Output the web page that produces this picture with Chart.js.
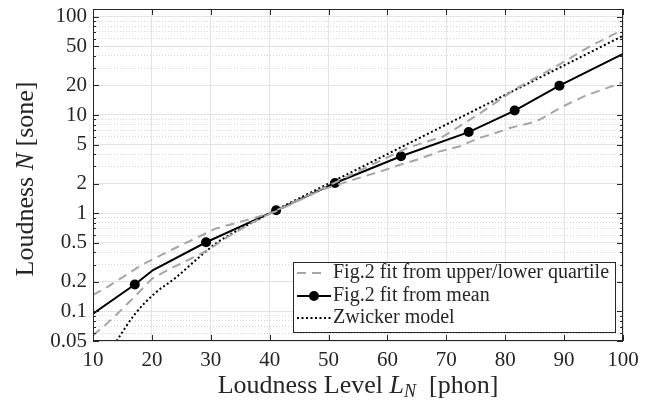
<!DOCTYPE html>
<html lang="en">
<head>
<meta charset="UTF-8">
<title>Loudness vs loudness level</title>
<script src="https://cdn.jsdelivr.net/npm/chart.js@4.4.0/dist/chart.umd.min.js"></script>
<style>
  html, body { margin: 0; padding: 0; background: #fff; }
  #chart { display: block; }
</style>
</head>
<body>
<canvas id="chart" width="654" height="403"></canvas>
<script>
// axis ticks
const xTicks = [10, 20, 30, 40, 50, 60, 70, 80, 90, 100]
const yMajor = [0.05, 0.1, 0.2, 0.5, 1, 2, 5, 10, 20, 50, 100]
const yMinor = [0.06, 0.07, 0.08, 0.09, 0.3, 0.4, 0.6, 0.7, 0.8, 0.9,
                3, 4, 6, 7, 8, 9, 30, 40, 60, 70, 80, 90]

// Fig.2 fit from mean (markers on the measured levels)
const meanX = [10, 17.1, 20.2, 29.2, 41.1, 51.1, 62.3, 73.8, 81.6, 89.2, 100]
const meanY = [0.095, 0.188, 0.264, 0.506, 1.07, 2.03, 3.8, 6.7, 11.1, 19.9, 42]
const meanMarked = [false, true, false, true, true, true, true, true, true, true, false]

// quartile fits (flatter one ends low, steeper one ends high)
const quartLowX = [10, 12.5, 18.2, 23.9, 30.9, 36.7, 41, 48.8, 55.9, 59.3, 62.1, 65, 68.9,
                   72.3, 75.1, 78.5, 80.8, 85.3, 87.5, 89.9, 93.8, 98.9, 100]
const quartLowY = [0.147, 0.178, 0.296, 0.44, 0.70, 0.87, 1.04, 1.73, 2.36, 2.72, 3.11, 3.5, 4.26,
                   4.8, 5.69, 6.6, 7.37, 8.6, 10.2, 12.3, 15.9, 20.4, 21.5]
const quartHighX = [10, 12, 14, 17, 20, 23, 26, 29.5, 33, 37, 41, 51, 56, 63.3, 69.5, 75.4, 82, 88.7, 94.4, 100]
const quartHighY = [0.057, 0.072, 0.093, 0.14, 0.215, 0.27, 0.33, 0.42, 0.58, 0.8, 1.06, 2.04, 2.85,
                    4.6, 6.06, 10.1, 18.8, 31.4, 50, 74]

// Zwicker model
const zwX = [14, 17, 20.5, 23.9, 27.8, 30.9, 34, 37, 40, 50, 60, 70, 80, 90, 100]
const zwY = [0.05, 0.092, 0.153, 0.217, 0.347, 0.494, 0.64, 0.8, 1.0, 2, 4, 8, 16, 32, 64]

const legendLabels = ['Fig.2 fit from upper/lower quartile', 'Fig.2 fit from mean', 'Zwicker model']

const serif = '"Liberation Serif", "Times New Roman", serif'
const ink = '#262626'
const gray = '#a6a6a6'
const pts = (xs, ys) => xs.map((x, i) => ({ x: x, y: ys[i] }))

function runsWidth(ctx, runs) {
  let w = 0
  runs.forEach(r => { ctx.font = r.font; w += ctx.measureText(r.text).width })
  return w
}
function drawRuns(ctx, runs, cx, baseline) {
  let x = cx - runsWidth(ctx, runs) / 2
  runs.forEach(r => {
    ctx.font = r.font
    ctx.fillText(r.text, x, baseline + (r.dy || 0))
    x += ctx.measureText(r.text).width
  })
}

// box with inward ticks, like the original figure
const frame = {
  id: 'frame',
  afterDatasetsDraw(chart) {
    const { ctx, chartArea: a, scales: { x, y } } = chart
    ctx.save()
    ctx.strokeStyle = ink
    ctx.lineWidth = 1
    ctx.strokeRect(a.left + 0.5, a.top + 0.5, a.right - a.left - 1, a.bottom - a.top - 1)
    ctx.beginPath()
    x.ticks.forEach(t => {
      const px = Math.round(x.getPixelForValue(t.value)) + 0.5
      ctx.moveTo(px, a.bottom); ctx.lineTo(px, a.bottom - 6)
      ctx.moveTo(px, a.top); ctx.lineTo(px, a.top + 6)
    })
    y.ticks.forEach(t => {
      const len = yMajor.includes(t.value) ? 6 : 3
      const py = Math.round(y.getPixelForValue(t.value)) + 0.5
      ctx.moveTo(a.left, py); ctx.lineTo(a.left + len, py)
      ctx.moveTo(a.right, py); ctx.lineTo(a.right - len, py)
    })
    ctx.stroke()
    ctx.restore()
  }
}

// axis titles with italic symbols
const titles = {
  id: 'titles',
  afterDraw(chart) {
    const { ctx, chartArea: a } = chart
    const up = '26px ' + serif, it = 'italic 26px ' + serif, sub = 'italic 18px ' + serif
    ctx.save()
    ctx.fillStyle = ink
    ctx.textAlign = 'left'
    ctx.textBaseline = 'alphabetic'
    drawRuns(ctx, [
      { text: 'Loudness Level ', font: up },
      { text: 'L', font: it },
      { text: 'N', font: sub, dy: 4 },
      { text: '  [phon]', font: up }
    ], (a.left + a.right) / 2, 393)
    ctx.translate(33, 179)
    ctx.rotate(-Math.PI / 2)
    drawRuns(ctx, [
      { text: 'Loudness ', font: up },
      { text: 'N', font: it },
      { text: ' [sone]', font: up }
    ], 0, 0)
    ctx.restore()
  }
}

// legend box in the lower right
const legendBox = {
  id: 'legendBox',
  afterDraw(chart) {
    const ctx = chart.ctx
    const left = 293, top = 262, w = 322, h = 70
    ctx.save()
    ctx.fillStyle = '#fff'
    ctx.fillRect(left, top, w, h)
    ctx.strokeStyle = ink
    ctx.lineWidth = 1
    ctx.strokeRect(left + 0.5, top + 0.5, w, h)
    const rows = [273, 296, 318]
    const x0 = left + 4, x1 = left + 38
    // dashed
    ctx.strokeStyle = gray; ctx.lineWidth = 2; ctx.setLineDash([9, 6])
    ctx.beginPath(); ctx.moveTo(x0, rows[0]); ctx.lineTo(x1 - 6, rows[0]); ctx.stroke()
    // solid + marker
    ctx.strokeStyle = '#000'; ctx.setLineDash([])
    ctx.beginPath(); ctx.moveTo(x0, rows[1]); ctx.lineTo(x1, rows[1]); ctx.stroke()
    ctx.fillStyle = '#000'
    ctx.beginPath(); ctx.arc((x0 + x1) / 2, rows[1], 5, 0, Math.PI * 2); ctx.fill()
    // dotted
    ctx.setLineDash([2, 2.5])
    ctx.beginPath(); ctx.moveTo(x0, rows[2]); ctx.lineTo(x1, rows[2]); ctx.stroke()
    ctx.setLineDash([])
    ctx.fillStyle = ink
    ctx.font = '20px ' + serif
    ctx.textAlign = 'left'
    ctx.textBaseline = 'alphabetic'
    legendLabels.forEach((t, i) => ctx.fillText(t, x1 + 2, rows[i] + 5))
    ctx.restore()
  }
}

const zeroPad = s => { s.paddingTop = 0; s.paddingBottom = 0; s.paddingLeft = 0; s.paddingRight = 0 }

const ctx = document.getElementById('chart').getContext('2d')
const chart = new Chart(ctx, {
  type: 'line',
  data: {
    datasets: [
      {
        label: legendLabels[0],
        data: pts(quartLowX, quartLowY),
        borderColor: gray,
        borderWidth: 2,
        borderDash: [9, 6],
        pointRadius: 0,
        tension: 0
      },
      {
        label: legendLabels[0] + ' (upper)',
        data: pts(quartHighX, quartHighY),
        borderColor: gray,
        borderWidth: 2,
        borderDash: [9, 6],
        pointRadius: 0,
        tension: 0
      },
      {
        label: legendLabels[2],
        data: pts(zwX, zwY),
        borderColor: '#000',
        borderWidth: 2,
        borderDash: [2, 2.5],
        pointRadius: 0,
        cubicInterpolationMode: 'monotone'
      },
      {
        label: legendLabels[1],
        data: pts(meanX, meanY),
        borderColor: '#000',
        borderWidth: 2,
        pointRadius: c => meanMarked[c.dataIndex] ? 5 : 0,
        pointBackgroundColor: '#000',
        pointBorderColor: '#000',
        pointBorderWidth: 0,
        tension: 0
      }
    ]
  },
  options: {
    responsive: false,
    animation: false,
    devicePixelRatio: 1,
    layout: { padding: { top: 9, right: 31, left: 0, bottom: 0 } },
    plugins: {
      legend: { display: false },
      tooltip: { enabled: false }
    },
    scales: {
      x: {
        type: 'linear',
        min: 10,
        max: 100,
        afterBuildTicks: s => { s.ticks = xTicks.map(v => ({ value: v })) },
        afterFit: s => { s.height = 62; zeroPad(s) },
        ticks: {
          font: { family: serif, size: 21 },
          color: ink,
          padding: 7,
          maxRotation: 0,
          autoSkip: false
        },
        grid: { color: '#e3e3e3', drawTicks: false },
        border: { display: false }
      },
      y: {
        type: 'logarithmic',
        min: 0.05,
        max: 120,
        afterBuildTicks: s => {
          s.ticks = yMajor.concat(yMinor).sort((a, b) => a - b).map(v => ({ value: v }))
        },
        afterFit: s => { s.width = 93; zeroPad(s) },
        ticks: {
          font: { family: serif, size: 21 },
          color: ink,
          padding: 6,
          autoSkip: false,
          callback: v => yMajor.includes(v) ? String(v) : ''
        },
        grid: {
          color: c => yMajor.includes(c.tick.value) ? '#e3e3e3' : '#d6d6d6',
          drawTicks: false
        },
        border: {
          display: false,
          dash: c => (c.tick && yMajor.includes(c.tick.value)) ? [] : [1, 2]
        }
      }
    }
  },
  plugins: [frame, titles, legendBox]
})
</script>
</body>
</html>
